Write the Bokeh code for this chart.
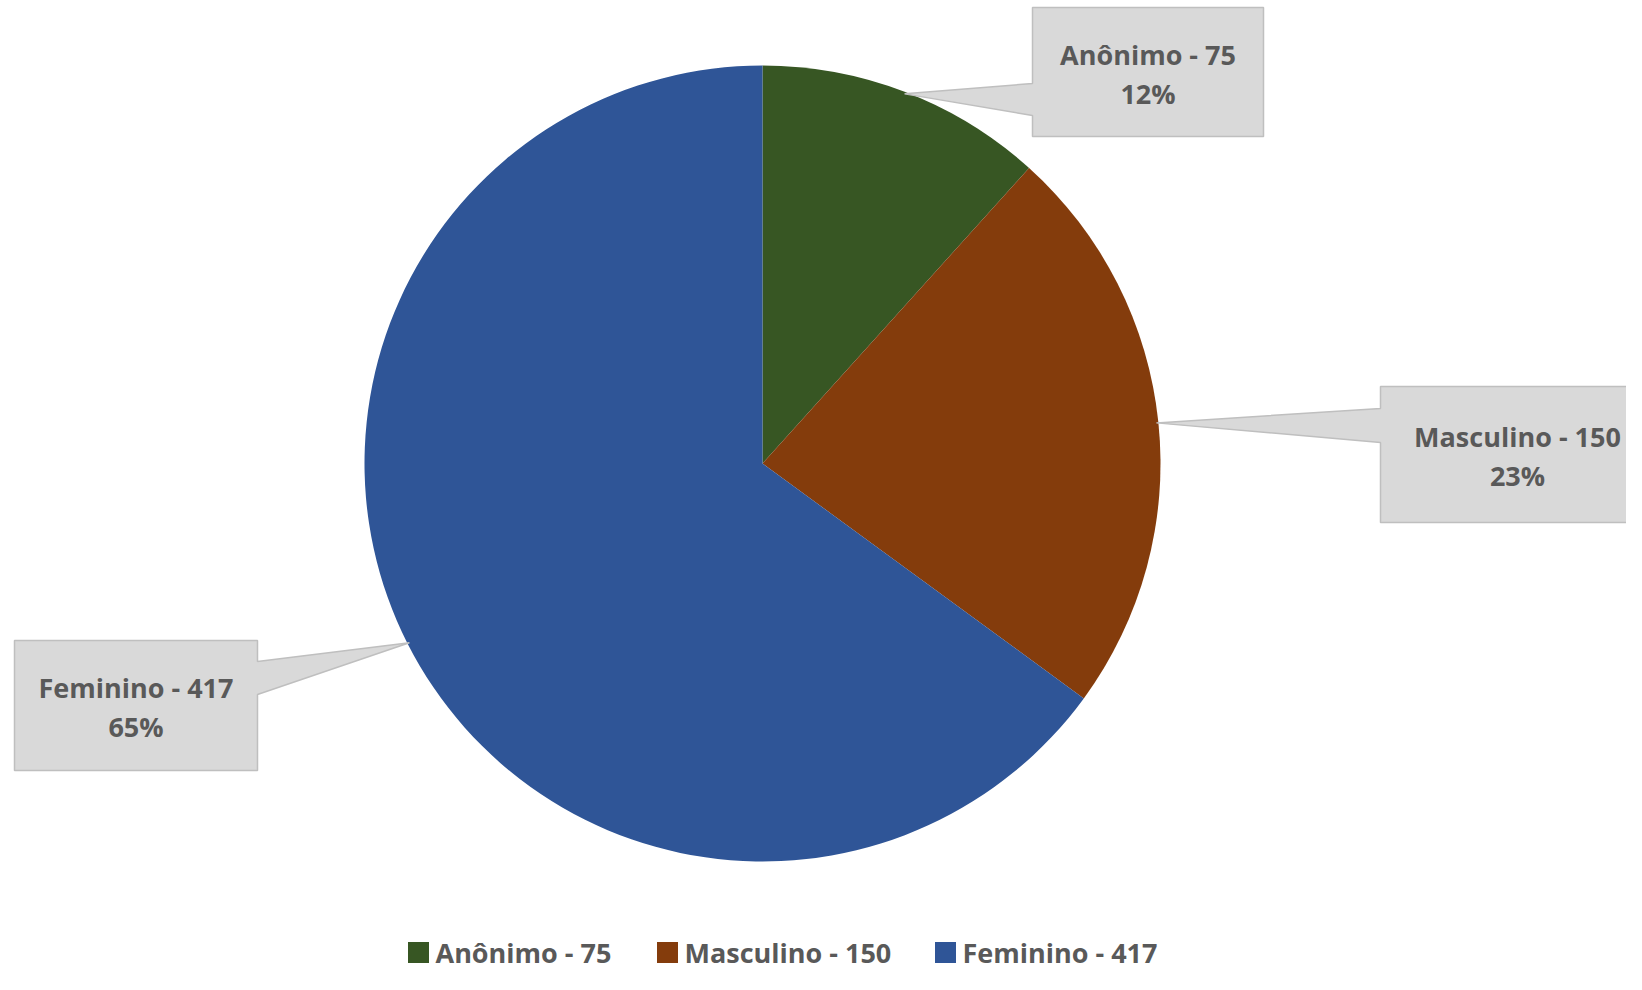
import math
from bokeh.plotting import figure
from bokeh.models import Range1d, ColumnDataSource
from bokeh.core.properties import value
from bokeh.embed import file_html
from bokeh.resources import INLINE

# ---- data ----
categories = ["Anônimo", "Masculino", "Feminino"]
counts = [75, 150, 417]
colors = ["#375623", "#843C0C", "#2F5597"]

total = sum(counts)
fracs = [c / total for c in counts]
pct_labels = [f"{round(f * 100):d}%" for f in fracs]
name_labels = [f"{n} - {c}" for n, c in zip(categories, counts)]

# ---- layout (picture pixel coordinates; data y = 990 - py) ----
W, H = 1626, 974
FONT = value("Open Sans")
TXT = "#595959"
FS = "27px"

def Y(py):
    return 990 - py

cx, cy, r = 762, Y(463), 398

p = figure(width=W, height=H, x_range=Range1d(0, W), y_range=Range1d(990 - H, 990),
           output_backend="svg", toolbar_location=None, min_border=0,
           background_fill_color="white", border_fill_color="white")
p.outline_line_color = None
p.axis.visible = False
p.grid.visible = False

# pie wedges (clockwise from top)
starts, ends, mids = [], [], []
cum = 0.0
for f in fracs:
    a0 = math.pi / 2 - (cum + f) * 2 * math.pi
    a1 = math.pi / 2 - cum * 2 * math.pi
    starts.append(a0)
    ends.append(a1)
    mids.append(math.pi / 2 - (cum + f / 2) * 2 * math.pi)
    cum += f

src = ColumnDataSource(dict(start=starts, end=ends, color=colors))
p.wedge(x=cx, y=cy, radius=r, start_angle="start", end_angle="end",
        fill_color="color", line_color=None, source=src)

# callout boxes: (left, top, right, bottom, side, base_top, base_bottom) in picture px
boxes = [
    (1032, 7, 1263, 136, "left", 83, 115),
    (1380, 386, 1654, 522, "left", 408, 442),
    (14, 640, 257, 770, "right", 661, 694),
]

xs, ys = [], []
for (L, T, R, B, side, b1, b2), m in zip(boxes, mids):
    tx = cx + (r - 2) * math.cos(m)
    ty = cy + (r - 2) * math.sin(m)
    if side == "left":
        px = [L, R, R, L, L, tx, L]
        py = [Y(T), Y(T), Y(B), Y(B), Y(b2), ty, Y(b1)]
    else:
        px = [L, R, R, tx, R, R, L]
        py = [Y(T), Y(T), Y(b1), ty, Y(b2), Y(B), Y(B)]
    xs.append(px)
    ys.append(py)

p.patches(xs=xs, ys=ys, fill_color="#D9D9D9", line_color="#BFBFBF", line_width=1.5)

for (L, T, R, B, side, b1, b2), nl, pl in zip(boxes, name_labels, pct_labels):
    mx = (L + R) / 2
    my = (T + B) / 2
    p.text(x=[mx], y=[Y(my - 18)], text=[nl], text_font=FONT, text_font_style="bold",
           text_font_size=FS, text_color=TXT, text_align="center", text_baseline="middle")
    p.text(x=[mx], y=[Y(my + 21)], text=[pl], text_font=FONT, text_font_style="bold",
           text_font_size=FS, text_color=TXT, text_align="center", text_baseline="middle")

# legend
leg_sq_x = [418, 667, 945]
leg_y = Y(952)
p.rect(x=leg_sq_x, y=[leg_y] * 3, width=21, height=21, fill_color=colors, line_color=None)
p.text(x=[x + 17 for x in leg_sq_x], y=[leg_y] * 3, text=name_labels, text_font=FONT,
       text_font_style="bold", text_font_size=FS, text_color=TXT,
       text_align="left", text_baseline="middle")

open("out.html", "w").write(file_html(p, INLINE))
